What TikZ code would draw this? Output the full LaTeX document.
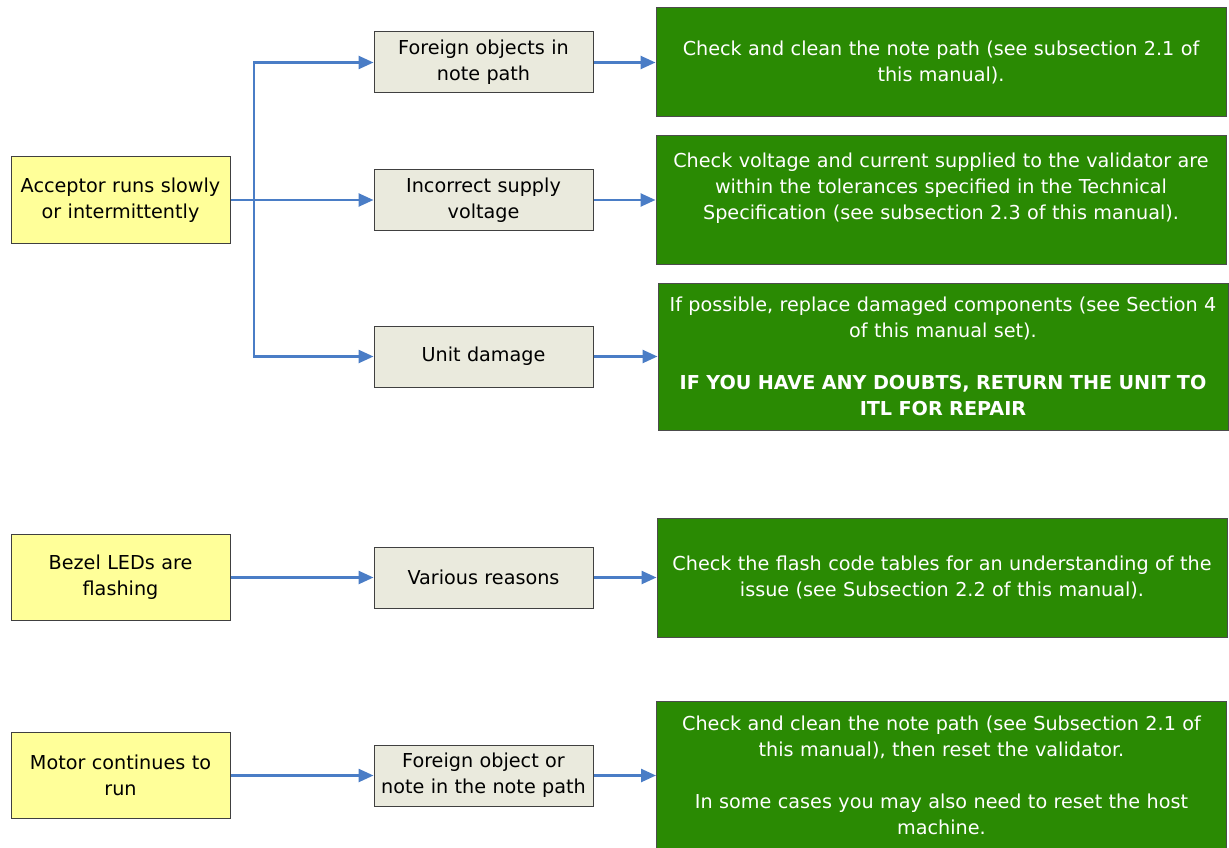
\documentclass[tikz,border=0pt]{standalone}
\usepackage{fontspec}
\setmainfont{DejaVu Sans}
\usetikzlibrary{arrows.meta,positioning}
\definecolor{faultyellow}{HTML}{FFFF99}
\definecolor{causegrey}{HTML}{EAEADD}
\definecolor{fixgreen}{HTML}{2A8A03}
\definecolor{linkblue}{HTML}{4A7DC6}

\begin{document}
\begin{tikzpicture}[
      x=1pt, y=-1pt,
      fault/.style={
         rectangle,
         draw=black!75,
         fill=faultyellow,
         line width=1pt,
         minimum width=219pt,
         minimum height=86pt,
         text width=216pt,
         inner xsep=1pt,
         align=center,
         font=\fontsize{19.2}{26}\selectfont},
      cause/.style={
         fault,
         fill=causegrey,
         minimum height=61pt},
      remedy/.style={
         rectangle,
         draw=black!70,
         fill=fixgreen,
         text=white,
         line width=1pt,
         minimum width=570pt,
         text width=564pt,
         inner xsep=2pt,
         align=center,
         font=\fontsize{19.2}{26}\selectfont},
      myarrow/.style={draw=linkblue, line width=2.5pt,
         -{Triangle[length=15pt,width=13pt]}}
      ]
      \useasboundingbox (0,0) rectangle (1229,848);
      % faults
      \node[fault] (a1) at (120.5,200) {Acceptor runs slowly\\or intermittently};
      \node[fault] (a2) at (120.5,577.5) {Bezel LEDs are\\flashing};
      \node[fault] (a3) at (120.5,775.5) {Motor continues to\\run};
      % causes
      \node[cause] (b1) at (483.5,62.5) {Foreign objects in\\note path};
      \node[cause] (b2) at (483.5,200) {Incorrect supply\\voltage};
      \node[cause] (b3) at (483.5,356.5) {Unit damage};
      \node[cause] (b4) at (483.5,577.5) {Various reasons};
      \node[cause] (b5) at (483.5,775.5) {Foreign object or\\note in the note path};
      % remedies
      \node[remedy,minimum height=109pt] (g1) at (941,62.5)
         {Check and clean the note path (see subsection 2.1 of\\this manual).};
      \node[remedy,minimum height=128pt,text depth=80pt] (g2) at (941,200)
         {Check voltage and current supplied to the validator are\\within the tolerances specified in the Technical\\Specification (see subsection 2.3 of this manual).};
      \node[remedy,minimum height=147pt] (g3) at (943,356.5)
         {If possible, replace damaged components (see Section 4\\of this manual set).\\[26pt]
          \textbf{IF YOU HAVE ANY DOUBTS, RETURN THE UNIT TO}\\\textbf{ITL FOR REPAIR}};
      \node[remedy,minimum height=119pt] (g4) at (942,577.5)
         {Check the flash code tables for an understanding of the\\issue (see Subsection 2.2 of this manual).};
      \node[remedy,minimum height=148pt] (g5) at (941.5,775.5)
         {Check and clean the note path (see Subsection 2.1 of\\this manual), then reset the validator.\\[26pt]
          In some cases you may also need to reset the host\\machine.};
      \coordinate (split) at (254,200);
      \draw[myarrow] (split) |- (b1);
      \draw[myarrow] (split) |- (b3);
    \foreach \i/\j in {a1/b2, a2/b4, a3/b5,
      b1/g1, b2/g2, b3/g3, b4/g4, b5/g5}
       \draw [myarrow] (\i) -- (\j);
\end{tikzpicture}
\end{document}
